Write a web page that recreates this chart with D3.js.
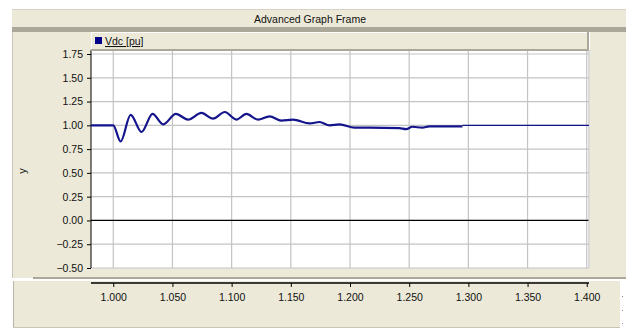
<!DOCTYPE html>
<html>
<head>
<meta charset="utf-8">
<script src="https://cdn.jsdelivr.net/npm/d3@7"></script>
<style>
  body { margin: 0; background: #fff; }
  svg text { font-family: "Liberation Sans", Arial, sans-serif; }
</style>
</head>
<body>
<div id="chart"></div>
<script>
// data
const seriesName = "Vdc [pu]";
const times = [0.9812, 1.000, 1.0062, 1.0147, 1.0239, 1.0332, 1.0422, 1.0529, 1.0632, 1.0745, 1.0843,
  1.0942, 1.1040, 1.1125, 1.1223, 1.1321, 1.1420, 1.1518, 1.1659, 1.1743, 1.1827, 1.1912, 1.2038,
  1.2164, 1.2417, 1.2474, 1.2527, 1.2611, 1.2670, 1.2950];
const vdc = [1.00, 1.00, 0.83, 1.11, 0.93, 1.12, 1.01, 1.12, 1.06, 1.13, 1.07,
  1.14, 1.06, 1.12, 1.06, 1.095, 1.05, 1.06, 1.02, 1.035, 1.00, 1.01, 0.975,
  0.975, 0.97, 0.96, 0.985, 0.975, 0.99, 0.99];
// flat tail after the thick part
const tailTimes = [1.2950, 1.4019];
const tailVdc = [1.00, 1.00];
const xTicks = [1.00, 1.05, 1.10, 1.15, 1.20, 1.25, 1.30, 1.35, 1.40];
const yTicks = [-0.50, -0.25, 0.00, 0.25, 0.50, 0.75, 1.00, 1.25, 1.50, 1.75];

const W = 626, H = 329;
const beige = "#ece9d8", shade = "#aca899", gridC = "#c3c3c3", navy = "#14148c";
const plot = { left: 91, right: 589, top: 50, bottom: 268 };

const svg = d3.select("#chart").append("svg").attr("width", W).attr("height", H);
svg.append("rect").attr("width", W).attr("height", H).attr("fill", "#fff");

// frame panels
svg.append("rect").attr("x", 12).attr("y", 9).attr("width", W - 12).attr("height", 1).attr("fill", "#d6d3c6");
svg.append("rect").attr("x", 12).attr("y", 10).attr("width", W - 12).attr("height", 17).attr("fill", beige);
svg.append("text").attr("x", 310).attr("y", 22.5).attr("text-anchor", "middle")
  .attr("font-size", 10.5).attr("fill", "#111").text("Advanced Graph Frame");
svg.append("rect").attr("x", 12).attr("y", 27).attr("width", W - 12).attr("height", 5).attr("fill", shade);

// left, right and lower panels
svg.append("rect").attr("x", 12).attr("y", 32).attr("width", W - 12).attr("height", 246).attr("fill", beige);
svg.append("rect").attr("x", 12).attr("y", 32).attr("width", 1).attr("height", 246).attr("fill", "#c8c5b8");
svg.append("rect").attr("x", 33).attr("y", 277).attr("width", W - 33).attr("height", 2).attr("fill", shade);
svg.append("rect").attr("x", 12).attr("y", 279).attr("width", W - 12).attr("height", 2).attr("fill", "#fff");
svg.append("rect").attr("x", 13).attr("y", 281).attr("width", 607).attr("height", 47).attr("fill", beige);
svg.append("rect").attr("x", 13).attr("y", 281).attr("width", 1).attr("height", 47).attr("fill", "#b8b5a8");
svg.append("rect").attr("x", 13).attr("y", 327).attr("width", 607).attr("height", 1).attr("fill", "#c8c5b8");
[296, 310, 323].forEach((yy) => {
  svg.append("rect").attr("x", 622).attr("y", yy).attr("width", 1).attr("height", 1).attr("fill", "#888");
});

// white plot area
svg.append("rect").attr("x", plot.left).attr("y", plot.top)
  .attr("width", plot.right - plot.left).attr("height", plot.bottom - plot.top).attr("fill", "#fff");
svg.append("rect").attr("x", plot.right).attr("y", 32).attr("width", 1).attr("height", 236).attr("fill", "#fff");

const x = d3.scaleLinear().domain([0.9812, 1.4019]).range([plot.left, plot.right]);
const y = d3.scaleLinear().domain([-0.5, 1.75]).range([268, 54]);

// grid
const grid = svg.append("g");
grid.selectAll(".vg").data(xTicks).enter().append("line")
  .attr("x1", (d) => x(d)).attr("x2", (d) => x(d))
  .attr("y1", plot.top).attr("y2", plot.bottom)
  .attr("stroke", gridC).attr("stroke-width", 1.2);
grid.selectAll(".hg").data(yTicks).enter().append("line")
  .attr("x1", plot.left).attr("x2", plot.right)
  .attr("y1", (d) => y(d)).attr("y2", (d) => y(d))
  .attr("stroke", (d) => (d === 0 ? "#000" : gridC)).attr("stroke-width", 1.2);
grid.append("line").attr("x1", plot.right).attr("x2", plot.right)
  .attr("y1", plot.top).attr("y2", plot.bottom).attr("stroke", gridC).attr("stroke-width", 1.2);

// y axis
const yAxis = d3.axisLeft(y).tickValues(yTicks).tickSize(4).tickSizeOuter(0)
  .tickFormat(d3.format(".2f"));
const yg = svg.append("g").attr("transform", `translate(${plot.left},0)`).call(yAxis);
yg.select(".domain").attr("d", `M0,${plot.top}V${plot.bottom}`).attr("stroke", "#000");
yg.selectAll("text").attr("font-size", 10.5).attr("fill", "#111").attr("dx", -1);

svg.append("text").attr("transform", "translate(26,171) rotate(-90)")
  .attr("text-anchor", "middle").attr("font-size", 11).attr("fill", "#111").text("y");

// x axis in lower panel
const xAxis = d3.axisBottom(x).tickValues(xTicks).tickSize(4).tickSizeOuter(0)
  .tickFormat(d3.format(".3f"));
const xg = svg.append("g").attr("transform", "translate(0,283)").call(xAxis);
xg.select(".domain").attr("d", `M${plot.left},0H${plot.right}`).attr("stroke", "#000").attr("stroke-width", 1.3);
xg.selectAll("text").attr("font-size", 10.5).attr("fill", "#111").attr("dy", "1.0em");

// series
const line = d3.line().x((d) => x(d[0])).y((d) => y(d[1])).curve(d3.curveMonotoneX);
svg.append("path").datum(times.map((t, i) => [t, vdc[i]]))
  .attr("fill", "none").attr("stroke", navy).attr("stroke-width", 2.2).attr("d", line);
svg.append("path").datum(tailTimes.map((t, i) => [t, tailVdc[i]]))
  .attr("fill", "none").attr("stroke", navy).attr("stroke-width", 1.4).attr("d", line);

// legend box
const lg = svg.append("g");
lg.append("rect").attr("x", 91).attr("y", 32).attr("width", 498).attr("height", 19).attr("fill", shade);
lg.append("rect").attr("x", 91).attr("y", 32).attr("width", 496).attr("height", 17).attr("fill", "#fff");
lg.append("rect").attr("x", 92).attr("y", 33).attr("width", 495).attr("height", 16).attr("fill", beige);
lg.append("rect").attr("x", 95).attr("y", 37).attr("width", 7).attr("height", 7).attr("fill", "#00008b");
lg.append("text").attr("x", 105).attr("y", 45).attr("font-size", 10.5).attr("fill", "#111")
  .attr("text-decoration", "underline").text(seriesName);
</script>
</body>
</html>
